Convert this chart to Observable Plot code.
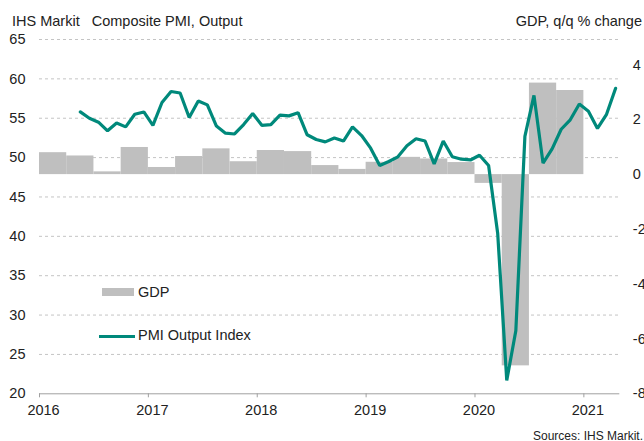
<!DOCTYPE html>
<html>
<head>
<meta charset="utf-8">
<script src="https://cdn.jsdelivr.net/npm/d3@7"></script>
<script src="https://cdn.jsdelivr.net/npm/@observablehq/plot@0.6"></script>
<style>
  html, body { margin: 0; padding: 0; background: #fff; overflow: hidden; }
  #wrap { position: relative; width: 644px; height: 441px; font-family: "Liberation Sans", Arial, sans-serif; color: #222; }
  .lbl { position: absolute; white-space: pre; line-height: 1; font-size: 14.5px; }
  .sw { position: absolute; }
</style>
</head>
<body>
<div id="wrap">
  <div class="lbl" style="left:12px; top:13.7px;">IHS Markit   Composite PMI, Output</div>
  <div class="lbl" style="right:2px; top:13.7px;">GDP, q/q % change</div>
  <div class="lbl" style="right:1px; top:430px; font-size:12px;">Sources: IHS Markit.</div>
  <div class="sw" style="left:102px; top:288px; width:32px; height:8px; background:#bfbfbf;"></div>
  <div class="lbl" style="left:138px; top:285.4px;">GDP</div>
  <div class="sw" style="left:99px; top:334.5px; width:36px; height:3px; background:#00897b;"></div>
  <div class="lbl" style="left:138px; top:328px;">PMI Output Index</div>
</div>
<script>
// ---- data ----
const gdpQuarters = ["2016Q1","2016Q2","2016Q3","2016Q4","2017Q1","2017Q2","2017Q3","2017Q4",
  "2018Q1","2018Q2","2018Q3","2018Q4","2019Q1","2019Q2","2019Q3","2019Q4",
  "2020Q1","2020Q2","2020Q3","2020Q4"];
const gdpValues = [0.80, 0.68, 0.10, 0.99, 0.26, 0.66, 0.94, 0.47,
  0.88, 0.84, 0.33, 0.19, 0.45, 0.63, 0.57, 0.44,
  -0.32, -6.98, 3.34, 3.07];

const pmiStart = "2016-05";
const pmiValues = [
  55.8, 55.0, 54.5, 53.4, 54.4, 53.9, 55.5, 55.8,
  54.1, 57.0, 58.4, 58.2, 55.1, 57.2, 56.7, 54.0, 53.1, 53.0, 54.2, 55.6,
  54.1, 54.2, 55.4, 55.3, 55.7, 52.9, 52.3, 52.0, 52.5, 52.1, 53.9, 52.8,
  51.2, 49.0, 49.5, 50.1, 51.5, 52.4, 52.1, 49.2, 52.1, 50.1, 49.8, 49.7,
  50.3, 49.0, 40.4, 21.7, 28.0, 52.7, 57.9, 49.3, 51.1, 53.6, 54.8, 56.8,
  55.9, 53.7, 55.5, 58.8
];

const yearTicks = [2016, 2017, 2018, 2019, 2020, 2021];
const pmiTicks = [20, 25, 30, 35, 40, 45, 50, 55, 60, 65];
const gdpTicks = [-8, -6, -4, -2, 0, 2, 4];

// ---- dual-axis mapping (GDP onto PMI scale) ----
const GDP_MIN = -8, PMI_MIN = 20, RATIO = 3.48;
const toPmi = g => PMI_MIN + (g - GDP_MIN) * RATIO;
const fromPmi = p => (p - PMI_MIN) / RATIO + GDP_MIN;

const gdp = gdpQuarters.map((q, i) => {
  const yr = +q.slice(0, 4), qn = +q.slice(5);
  return { x1: yr + (qn - 1) / 4, x2: yr + qn / 4, v: gdpValues[i] };
});
const [sy, sm] = pmiStart.split("-").map(Number);
const pmi = pmiValues.map((v, i) => {
  const m = sm - 1 + i;
  return { t: sy + Math.floor(m / 12) + ((m % 12) + 0.5) / 12, v };
});

const chart = Plot.plot({
  width: 644,
  height: 441,
  marginTop: 39,
  marginBottom: 47.7,
  marginLeft: 39,
  marginRight: 24.7,
  style: { fontFamily: "Liberation Sans, Arial, sans-serif", fontSize: "14.5px", color: "#222", background: "transparent" },
  x: { domain: [2016, 2021.33], axis: null, label: null },
  y: { domain: [20, 65], axis: null, label: null },
  marks: [
    Plot.gridY(pmiTicks.filter(d => d > 20), { stroke: "#c4c4c4", strokeOpacity: 1, strokeDasharray: "3,3" }),
    Plot.rect(gdp, { x1: "x1", x2: "x2", y1: () => toPmi(0), y2: d => toPmi(d.v), fill: "#bfbfbf" }),
    Plot.ruleY([20], { stroke: "#a0a0a0" }),
    Plot.axisX(yearTicks, { tickSize: 4, tickFormat: () => "", stroke: "#a0a0a0", label: null }),
    Plot.axisX(yearTicks, { tickSize: 0, tickPadding: 11, dx: 4, tickFormat: d => String(d), fontSize: 14.5, label: null }),
    Plot.axisY(pmiTicks, { anchor: "left", tickSize: 0, tickPadding: 14, tickFormat: d => String(d), fontSize: 14.5, label: null }),
    Plot.axisY(gdpTicks.map(toPmi), { anchor: "right", tickSize: 0, tickPadding: 13, tickFormat: d => String(Math.round(fromPmi(d))), fontSize: 14.5, label: null }),
    Plot.line(pmi, { x: "t", y: "v", stroke: "#00897b", strokeWidth: 3.2, strokeLinejoin: "miter" })
  ]
});
chart.style.position = "absolute";
chart.style.left = "0";
chart.style.top = "0";
document.getElementById("wrap").prepend(chart);
</script>
</body>
</html>
